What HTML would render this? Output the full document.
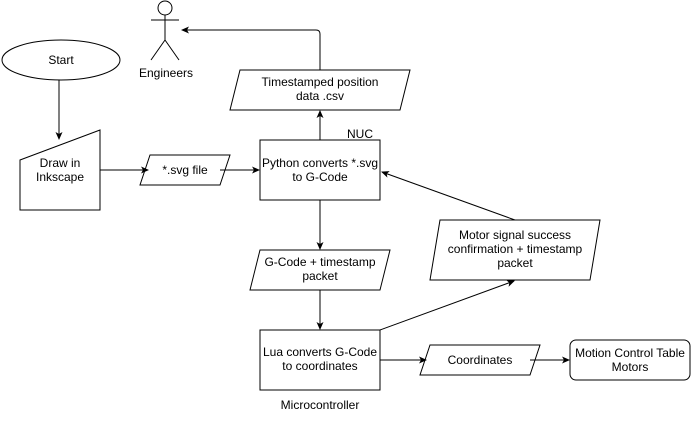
<!DOCTYPE html>
<html><head><style>body{margin:0;background:#fff}svg{display:block}text{font-family:"Liberation Sans",Arial,sans-serif;font-size:12px;fill:#000;text-anchor:middle}</style></head>
<body>
<svg width="691" height="422" viewBox="0 0 691 422" xmlns="http://www.w3.org/2000/svg">
<defs><marker id="a" markerWidth="8" markerHeight="8" refX="7" refY="4" orient="auto" markerUnits="userSpaceOnUse"><path d="M0,0.5 L8,4 L0,7.5 L2,4 Z" fill="#000"/></marker></defs>
<g fill="none" stroke="#000" stroke-width="1">
<ellipse cx="61" cy="60" rx="59" ry="20" fill="#fff"/>
<path d="M20,160 L100,130 L100,210 L20,210 Z" fill="#fff"/>
<path d="M150,155 L230,155 L220,185 L140,185 Z" fill="#fff"/>
<rect x="260" y="140" width="120" height="60" fill="#fff"/>
<path d="M240,70 L410,70 L400,110 L230,110 Z" fill="#fff"/>
<circle cx="165" cy="8" r="7"/>
<path d="M165,15 V40 M151,20 H179 M165,40 L151,60 M165,40 L179,60"/>
<path d="M260,250 L390,250 L380,290 L250,290 Z" fill="#fff"/>
<rect x="260" y="330" width="120" height="60" fill="#fff"/>
<path d="M430,345 L540,345 L530,375 L420,375 Z" fill="#fff"/>
<rect x="570" y="340" width="120" height="40" rx="6" fill="#fff"/>
<path d="M440,220 L600,220 L590,280 L430,280 Z" fill="#fff"/>
<path d="M59,80 V139" marker-end="url(#a)"/>
<path d="M100,170 H148" marker-end="url(#a)"/>
<path d="M220,170 H259" marker-end="url(#a)"/>
<path d="M320,140 V111" marker-end="url(#a)"/>
<path d="M320,70 V34 Q320,30 316,30 H182" marker-end="url(#a)"/>
<path d="M320,200 V249" marker-end="url(#a)"/>
<path d="M320,290 V329" marker-end="url(#a)"/>
<path d="M380,360 H426" marker-end="url(#a)"/>
<path d="M530,360 H569" marker-end="url(#a)"/>
<path d="M380,330 L514,281" marker-end="url(#a)"/>
<path d="M515,220 L382,172" marker-end="url(#a)"/>
</g>
<text x="61" y="64">Start</text>
<text x="60" y="167">Draw in</text><text x="60" y="181">Inkscape</text>
<text x="185" y="174">*.svg file</text>
<text x="320" y="167">Python converts *.svg</text><text x="320" y="181">to G-Code</text>
<text x="360" y="138">NUC</text>
<text x="320" y="86">Timestamped position</text><text x="320" y="100">data .csv</text>
<text x="166" y="77">Engineers</text>
<text x="320" y="266">G-Code + timestamp</text><text x="320" y="280">packet</text>
<text x="320" y="356">Lua converts G-Code</text><text x="320" y="370">to coordinates</text>
<text x="320" y="409">Microcontroller</text>
<text x="480" y="364">Coordinates</text>
<text x="630" y="357">Motion Control Table</text><text x="630" y="371">Motors</text>
<text x="515" y="239">Motor signal success</text><text x="515" y="253">confirmation + timestamp</text><text x="515" y="267">packet</text>
</svg>
</body></html>
